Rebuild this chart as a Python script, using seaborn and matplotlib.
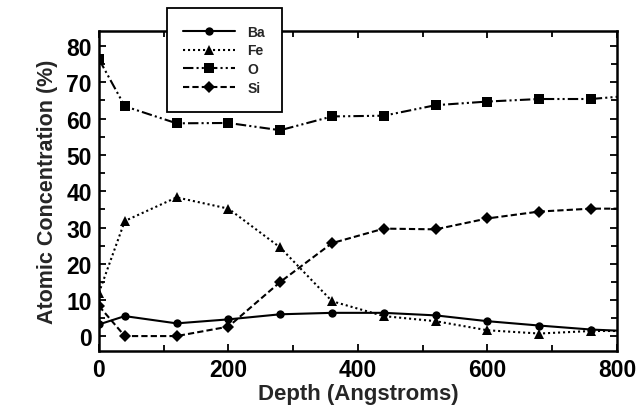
import pandas as pd
import seaborn as sns
import matplotlib.pyplot as plt
from matplotlib.ticker import MultipleLocator

# depth profile values
depth = [0, 40, 120, 200, 280, 360, 440, 520, 600, 680, 760, 800]
ba = [3.3, 5.6, 3.6, 4.7, 6.1, 6.5, 6.5, 5.8, 4.2, 3.0, 1.9, 1.6]
fe = [12.0, 31.8, 38.3, 35.2, 24.5, 9.7, 5.6, 4.2, 1.7, 0.8, 1.5, 1.5]
o = [76.4, 63.4, 58.7, 58.8, 56.8, 60.6, 60.8, 63.7, 64.7, 65.4, 65.4, 66.0]
si = [8.4, 0.1, 0.1, 2.7, 15.0, 25.7, 29.7, 29.5, 32.5, 34.4, 35.2, 35.2]

elements = ['Ba', 'Fe', 'O', 'Si']
values = {'Ba': ba, 'Fe': fe, 'O': o, 'Si': si}

sns.set_style('ticks')
plt.rcParams['font.family'] = ['Liberation Sans', 'DejaVu Sans']
plt.rcParams['font.weight'] = 'bold'

styles = {
    'Ba': dict(marker='o', markersize=6, dashes=()),
    'Fe': dict(marker='^', markersize=6.5, dashes=(1, 1.4)),
    'O': dict(marker='s', markersize=6.5, dashes=(5, 1.5, 1, 1.5, 1, 1.5)),
    'Si': dict(marker='D', markersize=6.5, dashes=(3, 1.5)),
}

fig = plt.figure(figsize=(6.38, 4.06), dpi=100)
ax = fig.add_axes([0.155, 0.134, 0.812, 0.786])

for el in elements:
    df = pd.DataFrame({'Depth': depth, 'Conc': values[el]})
    st = styles[el]
    line_kw = dict(color='black', linewidth=1.5, marker=st['marker'],
                   markersize=st['markersize'], markeredgewidth=0,
                   markevery=slice(0, len(depth) - 1))
    if st['dashes']:
        line_kw['dashes'] = st['dashes']
    sns.lineplot(data=df, x='Depth', y='Conc', ax=ax, label=el, **line_kw)

ax.set_xlim(0, 800)
ax.set_ylim(-3.9, 84)
ax.xaxis.set_major_locator(MultipleLocator(200))
ax.xaxis.set_minor_locator(MultipleLocator(100))
ax.yaxis.set_major_locator(MultipleLocator(10))
ax.yaxis.set_minor_locator(MultipleLocator(5))
ax.tick_params(which='both', direction='in', top=True, right=True, width=1.3,
               labelsize=16.5, colors='black')
ax.tick_params(which='major', length=5, pad=5)
ax.tick_params(which='minor', length=4)
for lab in ax.get_xticklabels() + ax.get_yticklabels():
    lab.set_fontweight('bold')
for sp in ax.spines.values():
    sp.set_linewidth(1.8)
    sp.set_color('black')

ax.set_xlabel('Depth (Angstroms)', fontsize=16, fontweight='bold', labelpad=2)
ax.set_ylabel('Atomic Concentration (%)', fontsize=15.5, fontweight='bold', labelpad=6)

leg = ax.legend(loc='upper left', bbox_to_anchor=(0.131, 1.074), borderaxespad=0,
                frameon=True, fancybox=False, framealpha=1, edgecolor='black',
                fontsize=10, handlelength=3.7, handletextpad=0.9,
                labelspacing=0.35, borderpad=1.2)
for t in leg.get_texts():
    t.set_fontweight('bold')
leg.get_frame().set_linewidth(1.3)
leg.set_zorder(5)

fig.savefig('out.png', dpi=100)
